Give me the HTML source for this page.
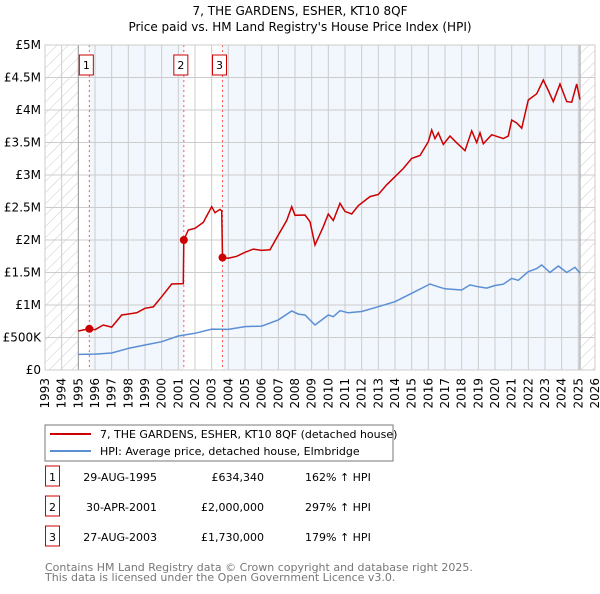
<!DOCTYPE html>
<html><head><meta charset="utf-8"><style>
body{margin:0;background:#fff;font-family:"DejaVu Sans","Liberation Sans",sans-serif;}
svg text{font-family:"DejaVu Sans","Liberation Sans",sans-serif;}
</style></head><body>
<svg id="c" width="600" height="590" xmlns="http://www.w3.org/2000/svg">
<defs><pattern id="h" width="8" height="8" patternUnits="userSpaceOnUse" patternTransform="rotate(45)"><line x1="0" y1="0" x2="0" y2="8" stroke="#ccc" stroke-width="1"/></pattern></defs>
<text x="300" y="15" text-anchor="middle" font-size="12">7, THE GARDENS, ESHER, KT10 8QF</text>
<text x="300" y="31" text-anchor="middle" font-size="12">Price paid vs. HM Land Registry's House Price Index (HPI)</text>
<g id="plot"></g>
<rect x="45" y="425" width="348" height="36" fill="#fff" stroke="#777"/>
<line x1="50" y1="434" x2="91" y2="434" stroke="#cc0000" stroke-width="2"/>
<text x="100" y="438" font-size="11">7, THE GARDENS, ESHER, KT10 8QF (detached house)</text>
<line x1="50" y1="451" x2="91" y2="451" stroke="#5b8fd4" stroke-width="2"/>
<text x="100" y="455" font-size="11">HPI: Average price, detached house, Elmbridge</text>
<g id="tbl"></g>
<text x="45" y="571" font-size="11" fill="#777">Contains HM Land Registry data © Crown copyright and database right 2025.</text>
<text x="45" y="581" font-size="11" fill="#777">This data is licensed under the Open Government Licence v3.0.</text>
</svg>
<script>
const hpiYears=[1995,1996,1997,1998,1999,2000,2001,2002,2003,2004,2005,2006,2007,2007.8,2008.2,2008.6,2009.2,2010,2010.3,2010.7,2011.2,2012,2013,2014,2015,2016.1,2016.6,2017,2017.5,2018,2018.5,2019,2019.5,2020,2020.5,2021,2021.4,2022,2022.5,2022.8,2023.3,2023.8,2024.3,2024.8,2025.1];
const hpiValues=[240,245,262,333,385,436,523,564,630,625,667,675,770,908,860,846,692,846,820,913,880,900,974,1051,1180,1323,1280,1250,1240,1231,1310,1280,1260,1300,1320,1410,1380,1513,1560,1615,1500,1600,1500,1580,1490];
const redYears=[1995,1995.66,1996,1996.5,1997,1997.6,1998.5,1999,1999.5,2000,2000.6,2001.3,2001.33,2001.6,2002,2002.5,2003,2003.2,2003.5,2003.6,2003.65,2004,2004.5,2005,2005.5,2006,2006.5,2007,2007.5,2007.8,2008,2008.6,2008.9,2009.2,2009.7,2010,2010.3,2010.7,2011,2011.4,2011.8,2012.5,2013,2013.5,2014,2014.5,2015,2015.5,2016,2016.2,2016.4,2016.6,2016.9,2017.3,2017.6,2018.2,2018.6,2018.9,2019.1,2019.3,2019.8,2020.5,2020.8,2021,2021.3,2021.6,2022,2022.5,2022.9,2023.2,2023.5,2023.9,2024.3,2024.6,2024.9,2025.1];
const redValues=[600,634,620,692,660,846,880,949,970,1128,1323,1330,2000,2154,2180,2270,2513,2420,2470,2450,1730,1720,1750,1810,1860,1840,1850,2077,2300,2513,2380,2385,2282,1923,2205,2400,2300,2564,2440,2400,2530,2667,2700,2850,2974,3100,3256,3300,3513,3692,3560,3650,3470,3600,3520,3374,3680,3500,3650,3480,3620,3560,3600,3846,3800,3720,4154,4250,4461,4300,4128,4400,4130,4120,4400,4160];
const saleYears=[1995.66,2001.33,2003.65];
const saleValues=[634,2000,1730];
const yTicks=[0,500,1000,1500,2000,2500,3000,3500,4000,4500,5000];
const yTickLabels=["£0","£500K","£1M","£1.5M","£2M","£2.5M","£3M","£3.5M","£4M","£4.5M","£5M"];
const rowDates=["29-AUG-1995","30-APR-2001","27-AUG-2003"];
const rowPrices=["£634,340","£2,000,000","£1,730,000"];
const rowHpi=["162% ↑ HPI","297% ↑ HPI","179% ↑ HPI"];
const NS="http://www.w3.org/2000/svg";
const X0=45,X1=595,Y0=370,Y1=45;
const xs=y=>X0+(y-1993)*(X1-X0)/33;
const ys=v=>Y0-v*(Y0-Y1)/5000;
const plot=document.getElementById('plot');
function el(t,a,p){const e=document.createElementNS(NS,t);for(const k in a)e.setAttribute(k,a[k]);(p||plot).appendChild(e);return e;}
let r;
r=el('rect',{x:X0,y:Y1,width:X1-X0,height:Y0-Y1,fill:'#fff'});


r=el('rect',{x:xs(saleYears[0]),y:Y1,width:xs(saleYears[1])-xs(saleYears[0]),height:Y0-Y1,fill:'#f2f6fd'});


r=el('rect',{x:xs(saleYears[2]),y:Y1,width:xs(2025.1)-xs(saleYears[2]),height:Y0-Y1,fill:'#f2f6fd'});


r=el('rect',{x:X0,y:Y1,width:xs(1995)-X0,height:Y0-Y1,fill:'url(#h)'});


r=el('rect',{x:xs(2025.1),y:Y1,width:X1-xs(2025.1),height:Y0-Y1,fill:'url(#h)'});


for(let yr=1993;yr<=2026;yr++){
 const g=el('line',{x1:xs(yr),x2:xs(yr),y1:Y1,y2:Y0,stroke:'#ccc','stroke-width':1});
 
 
 const t=el('text',{x:0,y:0,'font-size':12,'text-anchor':'end',transform:`translate(${xs(yr)+4},${Y0+8}) rotate(-90)`});
 t.textContent=yr;
 
 
}
yTicks.forEach((v,i)=>{
 const g=el('line',{x1:X0,x2:X1,y1:ys(v),y2:ys(v),stroke:'#ccc','stroke-width':1});
 
 
 const t=el('text',{x:X0-4,y:ys(v)+4,'font-size':12,'text-anchor':'end'});
 t.textContent=yTickLabels[i];
 
 
});
[1995,2025.1].forEach(yr=>{const l=el('line',{x1:xs(yr),x2:xs(yr),y1:Y1,y2:Y0,stroke:'#999','stroke-width':1});
 
 });
saleYears.forEach((yr,i)=>{
 const l=el('line',{x1:xs(yr),x2:xs(yr),y1:Y1,y2:Y0,stroke:'#f55','stroke-width':1,'stroke-dasharray':'2,3'});
 
 
 const b=el('rect',{x:xs(yr)-10,y:55,width:14,height:20,fill:'#fff',stroke:'#c00'});
 
 
 const t=el('text',{x:xs(yr)-3,y:69,'font-size':11,'text-anchor':'middle'});
 t.textContent=i+1;
 
 
});
const pts=(xa,va)=>xa.map((x,i)=>xs(x).toFixed(1)+','+ys(va[i]).toFixed(1)).join(' ');
const hp=el('polyline',{points:pts(hpiYears,hpiValues),fill:'none',stroke:'#5b8fd4','stroke-width':1.5});


const rp=el('polyline',{points:pts(redYears,redValues),fill:'none',stroke:'#cc0000','stroke-width':1.5});


saleYears.forEach((yr,i)=>{
 const c=el('circle',{cx:xs(yr),cy:ys(saleValues[i]),r:4,fill:'#cc0000'});
 
 
});
const pb=el('rect',{x:X0,y:Y1,width:X1-X0,height:Y0-Y1,fill:'none',stroke:'#ccc'});


const tbl=document.getElementById('tbl');
rowDates.forEach((d,i)=>{
 const y=483+i*30;
 const b=el('rect',{x:45.5,y:y-17,width:14,height:20,fill:'#fff',stroke:'#c00'},tbl);
 
 
 const n=el('text',{x:52.5,y:y-2,'font-size':11,'text-anchor':'middle'},tbl);n.textContent=i+1;
 
 
 const a=el('text',{x:157,y:y-2,'font-size':11,'text-anchor':'end'},tbl);a.textContent=d;
 
 
 const p=el('text',{x:264,y:y-2,'font-size':11,'text-anchor':'end'},tbl);p.textContent=rowPrices[i];
 
 
 const h=el('text',{x:305,y:y-2,'font-size':11},tbl);h.textContent=rowHpi[i];
 
 
});
</script>
</body></html>
